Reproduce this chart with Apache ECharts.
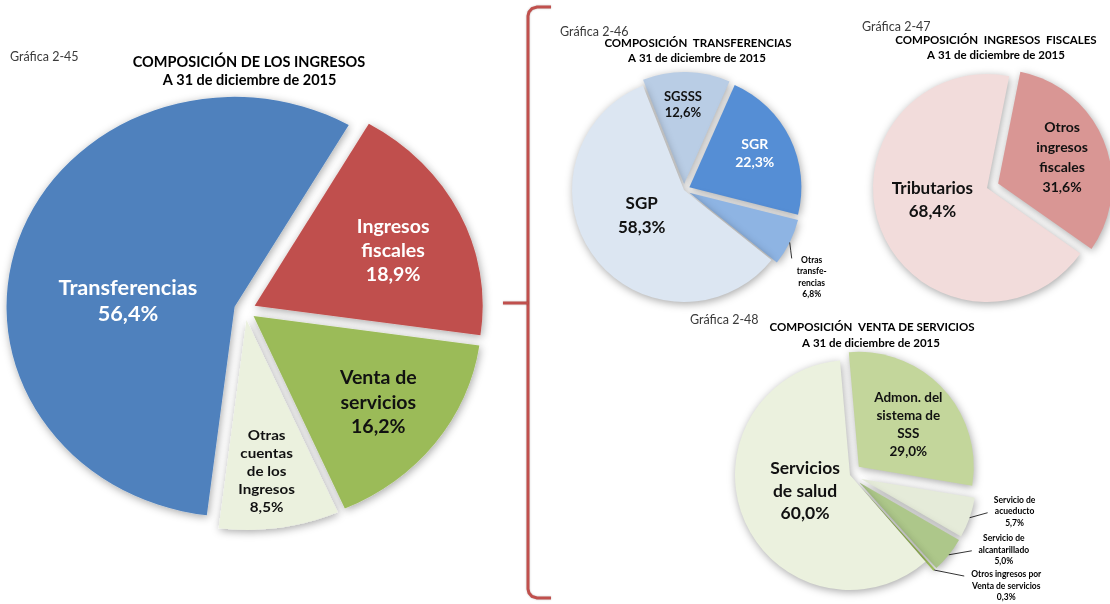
<!DOCTYPE html>
<html>
<head>
<meta charset="utf-8">
<script src="https://cdn.jsdelivr.net/npm/echarts@6/dist/echarts.min.js"></script>
<style>
  html, body { margin: 0; padding: 0; background: #ffffff; }
  #wrap { position: relative; width: 1110px; height: 604px; overflow: hidden; }
  /* the main pie is drawn slightly wider than tall */
  #main { position: absolute; left: 0; top: 0; width: 512px; height: 604px; transform: scaleX(1.086); transform-origin: 0 0; }
  #side { position: absolute; left: 0; top: 0; width: 1110px; height: 604px; }
</style>
</head>
<body>
<div id="wrap"><div id="main"></div><div id="side"></div></div>
<script>
// Gráfica 2-45: composición de los ingresos (%)
const ingresosCats = ['Transferencias', 'Ingresos\nfiscales', 'Venta de\nservicios', 'Otras\ncuentas\nde los\nIngresos'];
const ingresosVals = [56.4, 18.9, 16.2, 8.5];

// Gráfica 2-46: composición transferencias (%)
const transfCats = ['SGSSS', 'SGR', 'Otras\ntransfe-\nrencias', 'SGP'];
const transfVals = [12.6, 22.3, 6.8, 58.3];

// Gráfica 2-47: composición ingresos fiscales (%)
const fiscalesCats = ['Tributarios', 'Otros\ningresos\nfiscales'];
const fiscalesVals = [68.4, 31.6];

// Gráfica 2-48: composición venta de servicios (%)
const ventaCats = ['Admon. del\nsistema de\nSSS', 'Servicio de\nacueducto', 'Servicio de\nalcantarillado', 'Otros ingresos por\nVenta de servicios', 'Servicios\nde salud'];
const ventaVals = [29.0, 5.7, 5.0, 0.3, 60.0];

const FONT = 'Lato, "Open Sans", "DejaVu Sans", sans-serif';
const DARK = '#111111';

function pct(v) { return v.toFixed(1).replace('.', ',') + '%'; }
function insideFmt(p) { return p.name + '\n' + pct(p.value); }
function richFmt(p) {
  return p.name.split('\n').concat(pct(p.value)).map(function (s) { return '{t|' + s + '}'; }).join('\n');
}

function inside(size, lh, color) {
  return { position: 'inside', fontSize: size, lineHeight: lh, color: color, fontWeight: 'bold', fontFamily: FONT, formatter: insideFmt };
}
function outside(w) {
  return {
    position: 'outside', formatter: richFmt, distanceToLabelLine: 2,
    fontSize: 8.5, fontWeight: 'bold', fontFamily: FONT, color: '#000000', lineHeight: 11.5,
    rich: { t: { width: w, align: 'center', fontSize: 8.5, lineHeight: 11.5, fontWeight: 'bold', fontFamily: FONT, color: '#000000' } }
  };
}

// visible slices (exploded ones are "selected")
function sliceData(cats, vals, colors, selected) {
  return cats.map(function (name, i) {
    return { name: name, value: vals[i], selected: !!selected[i], itemStyle: { color: colors[i] } };
  });
}
// same values again, carrying only the labels
function labelData(cats, vals, labels) {
  return cats.map(function (name, i) {
    return { name: name, value: vals[i], label: labels[i], labelLine: { show: labels[i].position === 'outside' } };
  });
}

// moves an inside label to a chosen fraction of the radius, turning it a few degrees around the centre
function radialLabels(cx, cy, r, tweaks, special) {
  return function (p) {
    if (special && special[p.dataIndex]) return special[p.dataIndex](p);
    const t = tweaks[p.dataIndex];
    if (!t) return {};
    const lr = p.labelRect;
    const lx = lr.x + lr.width / 2, ly = lr.y + lr.height / 2;
    const a = Math.atan2(ly - cy, lx - cx) + t.rot * Math.PI / 180;
    const d = t.f * r;
    return { x: cx + d * Math.cos(a), y: cy + d * Math.sin(a) };
  };
}

// label hung below the slice with a short near-vertical leader
function leaderBelow(p) {
  const pts = p.labelLinePoints;
  if (!pts) return {};
  const p0 = pts[0];
  const lr = p.labelRect;
  const topX = p0[0] + 22, topY = p0[1] + 12;
  return {
    x: topX - lr.width / 2,
    y: topY + lr.height / 2,
    labelLinePoints: [[p0[0], p0[1]], [p0[0] + 1, p0[1] + 8], [p0[0] + 2, p0[1] + 16]]
  };
}

// label set to the right of the slice edge, leader running to its left side
function leaderRight(relX, relY, endDy) {
  return function (p) {
    const pts = p.labelLinePoints;
    if (!pts) return {};
    const p0 = pts[0];
    const x = p0[0] + relX, y = p0[1] + relY;
    return {
      x: x, y: y,
      labelLinePoints: [[p0[0], p0[1]], [x - 2, y + endDy]]
    };
  };
}

const shadow = { shadowBlur: 8, shadowColor: 'rgba(0,0,0,0.35)', shadowOffsetX: 1, shadowOffsetY: 2 };

function slicesSeries(center, r, start, offset, data) {
  return {
    type: 'pie', center: center, radius: r, startAngle: start, clockwise: true,
    selectedMode: 'multiple', selectedOffset: offset, animation: false,
    emphasis: { disabled: true }, itemStyle: shadow,
    label: { show: false }, labelLine: { show: false },
    data: data
  };
}
function labelSeries(center, r, start, layout, data) {
  return {
    type: 'pie', center: center, radius: r, startAngle: start, clockwise: true,
    silent: true, animation: false, avoidLabelOverlap: false, z: 5,
    emphasis: { disabled: true },
    itemStyle: { color: 'rgba(0,0,0,0)', borderWidth: 0 },
    label: { show: true, position: 'outside', formatter: insideFmt },
    labelLine: { length: 4, length2: 4, lineStyle: { color: '#000000', width: 0.8 } },
    labelLayout: layout,
    data: data
  };
}

// ---------- main pie ----------
const mainC = [225.5, 310], mainR = 210;
const mainChart = echarts.init(document.getElementById('main'), null, { renderer: 'svg' });
mainChart.setOption({
  backgroundColor: 'transparent',
  series: [
    slicesSeries(mainC, mainR, 263, 10,
      sliceData(ingresosCats, ingresosVals, ['#4F81BD', '#C0504D', '#9BBB59', '#EBF1DE'], [1, 1, 1, 1])),
    labelSeries(mainC, mainR, 263,
      radialLabels(mainC[0], mainC[1], mainR,
        [{ f: 0.515, rot: -13.2 }, { f: 0.71, rot: 2.2 }, { f: 0.73, rot: -0.5 }, { f: 0.77, rot: 1.2 }]),
      labelData(ingresosCats, ingresosVals,
        [inside(20, 26, '#ffffff'), inside(18, 24, '#ffffff'), inside(18, 24.5, DARK), inside(14, 18, DARK)]))
  ]
});

// ---------- side pies ----------
const tC = [684, 190], tR = 112, tOff = 6;
const fC = [987, 188], fR = 114, fOff = 12;
const vC = [850, 475], vR = 115, vOff = 12;

function line(x, y, text, size, bold, align) {
  return {
    type: 'text', x: x, y: y, silent: true,
    style: {
      text: text, fill: bold ? '#000000' : '#3a3a3a', align: align || 'center', verticalAlign: 'middle',
      font: (bold ? 'bold ' : '') + size + 'px ' + FONT
    }
  };
}
const bracketStyle = { stroke: '#C0504D', lineWidth: 3, fill: null, shadowBlur: 2, shadowColor: 'rgba(0,0,0,0.25)' };

const sideChart = echarts.init(document.getElementById('side'));
sideChart.setOption({
  backgroundColor: 'transparent',
  graphic: [
    line(10, 57, 'Gráfica 2-45', 12.5, false, 'left'),
    line(249, 62, 'COMPOSICIÓN DE LOS INGRESOS', 14.5, true),
    line(249.5, 80, 'A 31 de diciembre de 2015', 14.5, true),

    line(560, 32, 'Gráfica 2-46', 12.5, false, 'left'),
    line(698, 43, 'COMPOSICIÓN  TRANSFERENCIAS', 11.5, true),
    line(697, 58, 'A 31 de diciembre de 2015', 11.5, true),

    line(862, 27, 'Gráfica 2-47', 12.5, false, 'left'),
    line(996, 40, 'COMPOSICIÓN  INGRESOS  FISCALES', 11.5, true),
    line(996, 55, 'A 31 de diciembre de 2015', 11.5, true),

    line(690, 320, 'Gráfica 2-48', 12.5, false, 'left'),
    line(872, 327, 'COMPOSICIÓN  VENTA DE SERVICIOS', 11.5, true),
    line(871, 343, 'A 31 de diciembre de 2015', 11.5, true),

    // brace joining the main pie to its three breakdowns
    {
      type: 'polyline', silent: true,
      shape: { points: [[551, 7], [537, 7], [532, 8.5], [529, 12], [528, 16], [528, 589], [529, 593], [532, 596.5], [537, 598], [551, 598]] },
      style: bracketStyle
    },
    { type: 'line', silent: true, shape: { x1: 528, y1: 303, x2: 503, y2: 303 }, style: bracketStyle }
  ],
  series: [
    slicesSeries(tC, tR, 111.5, tOff,
      sliceData(transfCats, transfVals, ['#B9CDE5', '#558ED5', '#8EB4E3', '#DCE6F2'], [1, 1, 1, 0])),
    labelSeries(tC, tR + tOff, 111.5,
      radialLabels(tC[0], tC[1], tR,
        [{ f: 0.76, rot: -1.9 }, { f: 0.71, rot: -1.2 }, null, { f: 0.44, rot: 5.6 }],
        { 2: leaderBelow }),
      labelData(transfCats, transfVals,
        [inside(13, 16, DARK), inside(14, 18, '#ffffff'), outside(34), inside(17, 24, DARK)])),

    slicesSeries(fC, fR, -35, fOff,
      sliceData(fiscalesCats, fiscalesVals, ['#F2DCDB', '#D99694'], [0, 1])),
    labelSeries(fC, fR, -35,
      radialLabels(fC[0], fC[1], fR, [{ f: 0.49, rot: 9.6 }, { f: 0.71, rot: 0 }]),
      labelData(fiscalesCats, fiscalesVals, [inside(17, 23, DARK), inside(14, 20, DARK)])),

    slicesSeries(vC, vR, 95, vOff,
      sliceData(ventaCats, ventaVals, ['#C3D69B', '#E5EBD9', '#ADC78A', '#9BBB59', '#EBF1DE'], [1, 1, 1, 1, 0])),
    labelSeries(vC, vR + vOff, 95,
      radialLabels(vC[0], vC[1], vR, [{ f: 0.67, rot: 2 }, null, null, null, { f: 0.415, rot: 3.4 }],
        { 1: leaderRight(20, -6, 1), 2: leaderRight(25, -5, 1), 3: leaderRight(32, 16, -10) }),
      labelData(ventaCats, ventaVals,
        [inside(13.5, 18, DARK), outside(50), outside(60), outside(80), inside(17.5, 22.5, DARK)]))
  ]
});
</script>
</body>
</html>
